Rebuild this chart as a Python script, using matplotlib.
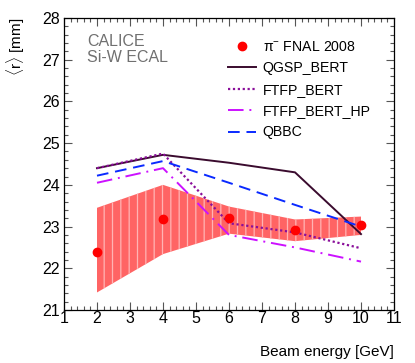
import matplotlib
matplotlib.use("Agg")
import matplotlib.pyplot as plt
from matplotlib.ticker import MultipleLocator
from matplotlib.lines import Line2D

plt.rcParams['font.family'] = ['Liberation Sans', 'DejaVu Sans']
plt.rcParams['mathtext.fontset'] = 'custom'
plt.rcParams['mathtext.rm'] = 'Liberation Sans'
plt.rcParams['mathtext.it'] = 'Liberation Sans:italic'
plt.rcParams['hatch.linewidth'] = 0.9

energy = [2, 4, 6, 8, 10]
data_r = [22.38, 23.17, 23.2, 22.92, 23.03]
band_upper = [23.45, 24.0, 23.48, 23.17, 23.24]
band_lower = [21.42, 22.34, 22.83, 22.65, 22.80]

qgsp_bert = [24.40, 24.72, 24.53, 24.30, 22.82]
ftfp_bert = [24.40, 24.75, 23.08, 22.86, 22.48]
ftfp_bert_hp = [24.05, 24.40, 22.80, 22.50, 22.16]
qbbc = [24.22, 24.57, 24.05, 23.52, 23.00]

fig = plt.figure(figsize=(4.15, 3.63), dpi=100)
ax = fig.add_axes([64/415, 1-310/363, 330/415, 292/363])

ax.fill_between(energy, band_lower, band_upper, facecolor='#ff6464',
                edgecolor='#ffb4b4', hatch='||', linewidth=0, zorder=1)

ax.plot(energy, qgsp_bert, color='#3a0b2e', lw=1.4, zorder=3)
ax.plot(energy, ftfp_bert, color='#8a0f9a', lw=1.6, ls=(0, (1, 1.2)), zorder=3)
ax.plot(energy, ftfp_bert_hp, color='#cc11ff', lw=1.4, ls=(0, (8, 3, 1, 3)), zorder=3)
ax.plot(energy, qbbc, color='#0a2aff', lw=1.4, ls=(0, (6, 3.5)), zorder=3)
ax.plot(energy, data_r, 'o', color='#ff0000', ms=6, zorder=4)

ax.set_xlim(1, 11)
ax.set_ylim(21, 28)
ax.xaxis.set_major_locator(MultipleLocator(1))
ax.xaxis.set_minor_locator(MultipleLocator(0.2))
ax.yaxis.set_major_locator(MultipleLocator(1))
ax.yaxis.set_minor_locator(MultipleLocator(0.2))
ax.tick_params(which='both', direction='in', top=True, right=True,
               labelsize=11.5, color='#555555')
ax.tick_params(which='major', length=6, width=0.8)
ax.tick_params(axis='x', which='major', pad=1)
ax.tick_params(axis='y', which='major', pad=3)
ax.tick_params(which='minor', length=3, width=0.8)
for s in ax.spines.values():
    s.set_linewidth(0.9)

fig.text(394/415, 1-352/363, 'Beam energy [GeV]', ha='right', va='center', fontsize=11)
fig.text(16/415, 1-17/363, r'$\langle$r$\rangle$ [mm]', ha='center', va='top',
         rotation=90, fontsize=11)

ax.text(87/415, 1-41/363, 'CALICE', transform=fig.transFigure, color='#707070',
        fontsize=11.5, va='center', ha='left')
ax.text(87/415, 1-57/363, 'Si-W ECAL', transform=fig.transFigure, color='#707070',
        fontsize=11.5, va='center', ha='left')

handles = [
    Line2D([], [], marker='o', color='#ff0000', ls='none', ms=6),
    Line2D([], [], color='#3a0b2e', lw=1.4),
    Line2D([], [], color='#8a0f9a', lw=1.6, ls=(0, (1, 1.2))),
    Line2D([], [], color='#cc11ff', lw=1.4, ls=(0, (8, 3, 1, 3))),
    Line2D([], [], color='#0a2aff', lw=1.4, ls=(0, (6, 3.5))),
]
labels = ['π$^{-}$ FNAL 2008', 'QGSP_BERT', 'FTFP_BERT', 'FTFP_BERT_HP', 'QBBC']
fig.legend(handles, labels, loc='upper left', bbox_to_anchor=(228/415, 1-40/363),
           frameon=False, fontsize=10.2, handlelength=2.0, handletextpad=0.45,
           labelspacing=0.52, borderpad=0, borderaxespad=0)

fig.savefig('out.png', dpi=100)
